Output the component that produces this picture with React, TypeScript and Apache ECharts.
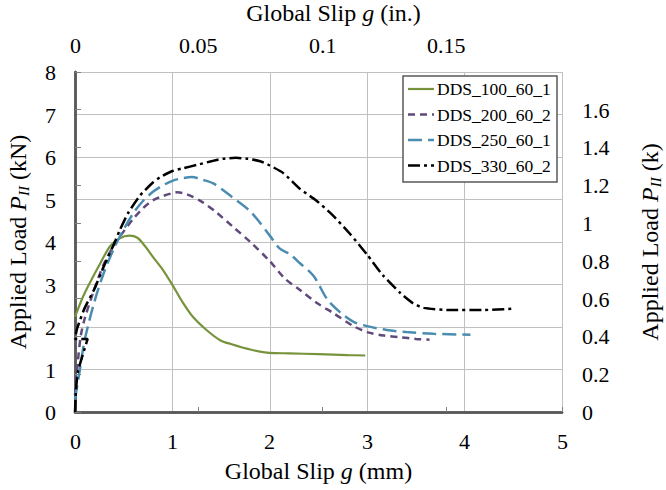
import React, { useEffect, useRef } from "react";
import * as echarts from "echarts";

const seriesNames = ["DDS_100_60_1", "DDS_200_60_2", "DDS_250_60_1", "DDS_330_60_2"];
const seriesColors = ["#77933c", "#604a7b", "#4a8db0", "#000000"];
const seriesDash: (number[] | null)[] = [null, [7, 5], [14, 6], [12, 4, 3, 4]];

const dds100: [number, number][] = [
  [0, 2.24], [0.08, 2.7], [0.15, 3.03], [0.26, 3.5], [0.36, 3.9], [0.46, 4.09], [0.56, 4.15],
  [0.64, 4.1], [0.72, 3.9], [0.8, 3.65], [0.9, 3.35], [1.0, 2.99], [1.1, 2.6], [1.21, 2.24],
  [1.35, 1.93], [1.49, 1.69], [1.6, 1.6], [1.8, 1.47], [2.0, 1.39], [2.2, 1.38], [2.5, 1.36],
  [2.8, 1.34], [2.98, 1.33],
];

const dds200: [number, number][] = [
  [0, 0.4], [0.03, 1.2], [0.06, 1.8], [0.1, 2.2], [0.2, 2.9], [0.3, 3.5], [0.4, 3.92],
  [0.5, 4.25], [0.6, 4.55], [0.7, 4.8], [0.8, 4.98], [0.9, 5.08], [1.0, 5.15], [1.05, 5.17],
  [1.15, 5.12], [1.3, 4.95], [1.45, 4.7], [1.62, 4.36], [1.8, 4.0], [2.0, 3.55], [2.15, 3.15],
  [2.31, 2.87], [2.48, 2.57], [2.65, 2.33], [2.86, 2.02], [3.0, 1.88], [3.17, 1.8], [3.34, 1.76],
  [3.5, 1.72], [3.64, 1.7],
];

const dds250: [number, number][] = [
  [0, 0.3], [0.05, 1.0], [0.1, 1.7], [0.2, 2.6], [0.3, 3.3], [0.4, 3.85], [0.5, 4.3],
  [0.6, 4.68], [0.7, 4.97], [0.8, 5.18], [0.9, 5.33], [1.0, 5.44], [1.1, 5.5], [1.2, 5.53],
  [1.3, 5.47], [1.42, 5.38], [1.6, 5.08], [1.8, 4.72], [2.0, 4.15], [2.1, 3.85], [2.2, 3.72],
  [2.31, 3.5], [2.45, 3.2], [2.59, 2.65], [2.72, 2.35], [2.86, 2.12], [3.0, 2.02], [3.2, 1.93],
  [3.4, 1.88], [3.68, 1.84], [4.06, 1.82],
];

const dds330: [number, number][] = [
  [0, 0], [0.01, 0.5], [0.03, 0.95], [0.13, 1.72], [0, 1.72], [0.02, 1.95], [0.05, 2.15],
  [0.1, 2.45], [0.2, 2.9], [0.3, 3.45], [0.4, 3.95], [0.46, 4.28], [0.55, 4.7], [0.67, 5.1],
  [0.8, 5.4], [0.87, 5.52], [1.0, 5.67], [1.1, 5.73], [1.28, 5.83], [1.4, 5.9], [1.52, 5.96],
  [1.65, 5.98], [1.77, 5.96], [1.9, 5.9], [2.0, 5.8], [2.14, 5.62], [2.31, 5.25], [2.48, 4.97],
  [2.65, 4.62], [2.82, 4.2], [3.0, 3.7], [3.16, 3.22], [3.34, 2.8], [3.47, 2.56], [3.58, 2.45],
  [3.85, 2.4], [4.19, 2.4], [4.49, 2.43],
];

const seriesData = [dds100, dds200, dds250, dds330];

const mmTicks = [0, 1, 2, 3, 4, 5];
const kNTicks = [0, 1, 2, 3, 4, 5, 6, 7, 8];
const inTicks = [0, 0.05, 0.1, 0.15];
const kipTicks = [0, 0.2, 0.4, 0.6, 0.8, 1, 1.2, 1.4, 1.6];

const MM_PER_IN = 25.4;
const KN_PER_KIP = 4.448222;

const FONT = "'Liberation Serif', 'Times New Roman', serif";
const AXIS_COLOR = "#595959";
const GRID_COLOR = "#c0c0c0";
const TICK_FONT = 22;
const LEGEND_FONT = 17.5;

export default function App() {
  const ref = useRef<HTMLDivElement>(null);
  useEffect(() => {
    if (!ref.current) return;
    const chart = echarts.init(ref.current, null, { renderer: "svg" });
    const xMax = mmTicks[mmTicks.length - 1];
    const yMax = kNTicks[kNTicks.length - 1];
    const inMax = xMax / MM_PER_IN;
    const kMax = yMax / KN_PER_KIP;
    const nameRich = {
      r: { fontFamily: FONT, fontStyle: "normal", fontSize: 24, color: "#000" },
      i: { fontFamily: FONT, fontStyle: "italic", fontSize: 24, color: "#000" },
      s: { fontFamily: FONT, fontStyle: "italic", fontSize: 15, color: "#000", padding: [12, 0, 0, 0] },
    };
    const nameBase = { fontFamily: FONT, fontStyle: "normal", fontSize: 24, color: "#000", rich: nameRich };
    const option: any = {
      animation: false,
      backgroundColor: "#fff",
      grid: { left: 75, right: 104, top: 72, bottom: 78, containLabel: false, outerBoundsMode: "none" },
      xAxis: [
        {
          type: "value",
          position: "bottom",
          min: 0,
          max: xMax,
          interval: 1,
          name: "{r|Global Slip }{i|g}{r| (mm)}",
          nameLocation: "middle",
          nameGap: 47,
          nameTextStyle: nameBase,
          axisLine: { show: true, lineStyle: { color: AXIS_COLOR, width: 2.5 } },
          axisTick: { show: false },
          axisLabel: { show: false },
          splitLine: { show: true, lineStyle: { color: GRID_COLOR, width: 1 } },
        },
        {
          type: "value",
          position: "top",
          min: 0,
          max: inMax,
          interval: 0.05,
          name: "{r|Global Slip }{i|g}{r| (in.)}",
          nameLocation: "middle",
          nameGap: 47,
          nameTextStyle: { ...nameBase, padding: [0, 0, 0, 30] },
          axisLine: { show: true, lineStyle: { color: AXIS_COLOR, width: 2.5 } },
          axisTick: { show: true, inside: false, length: 5, lineStyle: { color: "#808080", width: 1 } },
          axisLabel: { show: false },
          splitLine: { show: false },
        },
      ],
      yAxis: [
        {
          type: "value",
          position: "left",
          min: 0,
          max: yMax,
          interval: 1,
          name: "{r|Applied Load }{i|P}{s|II}{r| (kN)}",
          nameLocation: "middle",
          nameRotate: 90,
          nameGap: 44,
          nameTextStyle: nameBase,
          axisLine: { show: true, lineStyle: { color: AXIS_COLOR, width: 2.5 } },
          axisTick: { show: false },
          axisLabel: { show: false },
          splitLine: { show: true, lineStyle: { color: GRID_COLOR, width: 1 } },
        },
        {
          type: "value",
          position: "right",
          min: 0,
          max: kMax,
          interval: 0.2,
          name: "{r|Applied Load }{i|P}{s|II}{r| (k)}",
          nameLocation: "middle",
          nameRotate: 90,
          nameGap: 74,
          nameTextStyle: nameBase,
          axisLine: { show: true, lineStyle: { color: AXIS_COLOR, width: 2.5 } },
          axisTick: { show: true, inside: false, length: 6, lineStyle: { color: "#808080", width: 1 } },
          axisLabel: { show: false },
          splitLine: { show: false },
        },
      ],
      series: seriesNames.map((name, i) => ({
        name,
        type: "line",
        data: seriesData[i],
        symbol: "none",
        smooth: i === 3 ? 0.2 : 0.3,
        lineStyle: { color: seriesColors[i], width: i === 0 ? 2.2 : 2.5, type: seriesDash[i] || "solid" },
        itemStyle: { color: seriesColors[i] },
        z: 2 + i,
      })),
    };
    chart.setOption(option);

    const canvas = document.createElement("canvas");
    const ctx = canvas.getContext("2d");
    const measure = (text: string, size: number) => {
      if (!ctx) return text.length * size * 0.5;
      ctx.font = size + "px " + FONT;
      return ctx.measureText(text).width;
    };
    // text placed by its top-left corner; alignment computed from measured width
    const txt = (text: string, ax: number, cy: number, align: string, size: number) => {
      const w = measure(text, size);
      const left = align === "center" ? ax - w / 2 : align === "right" ? ax - w : ax;
      return {
        type: "text",
        left: Math.round(left),
        top: Math.round(cy - size / 2),
        style: { text, fontFamily: FONT, fontSize: size, fill: "#000" },
      };
    };
    const gr: any[] = [];
    const plotBottom = chart.convertToPixel({ yAxisIndex: 0 }, 0) as number;
    const plotTop = chart.convertToPixel({ yAxisIndex: 0 }, yMax) as number;
    const plotLeft = chart.convertToPixel({ xAxisIndex: 0 }, 0) as number;
    const plotRight = chart.convertToPixel({ xAxisIndex: 0 }, xMax) as number;
    mmTicks.forEach((v) => {
      const x = chart.convertToPixel({ xAxisIndex: 0 }, v) as number;
      gr.push(txt(String(v), x, plotBottom + 29, "center", TICK_FONT));
    });
    inTicks.forEach((v) => {
      const x = chart.convertToPixel({ xAxisIndex: 1 }, v) as number;
      gr.push(txt(String(v), x, plotTop - 27, "center", TICK_FONT));
    });
    kNTicks.forEach((v) => {
      const y = chart.convertToPixel({ yAxisIndex: 0 }, v) as number;
      gr.push(txt(String(v), plotLeft - 19, y, "right", TICK_FONT));
    });
    kipTicks.forEach((v) => {
      const y = chart.convertToPixel({ yAxisIndex: 1 }, v) as number;
      gr.push(txt(String(v), plotRight + 20, y, "left", TICK_FONT));
    });

    // Legend box
    const lgX = 403;
    const lgY = 76;
    const lgW = 154;
    const rowH = 25.5;
    const lgH = 12 + rowH * seriesNames.length - 8;
    gr.push({
      type: "rect",
      z: 90,
      silent: true,
      shape: { x: lgX, y: lgY, width: lgW, height: lgH },
      style: { fill: "#fff", stroke: AXIS_COLOR, lineWidth: 1.5 },
    });
    seriesNames.forEach((name, i) => {
      const cy = lgY + 13 + i * rowH;
      gr.push({
        type: "line",
        z: 95,
        silent: true,
        shape: { x1: lgX + 5, y1: cy, x2: lgX + 31, y2: cy },
        style: {
          stroke: seriesColors[i],
          lineWidth: i === 0 ? 2.2 : 2.5,
          lineDash: seriesDash[i] || null,
        },
      });
      const t: any = txt(name, lgX + 34, cy, "left", LEGEND_FONT);
      t.z = 100;
      gr.push(t);
    });
    chart.setOption({ graphic: gr });
    return () => chart.dispose();
  }, []);
  return <div ref={ref} style={{ width: 666, height: 490, position: "absolute", left: 0, top: 0 }} />;
}
